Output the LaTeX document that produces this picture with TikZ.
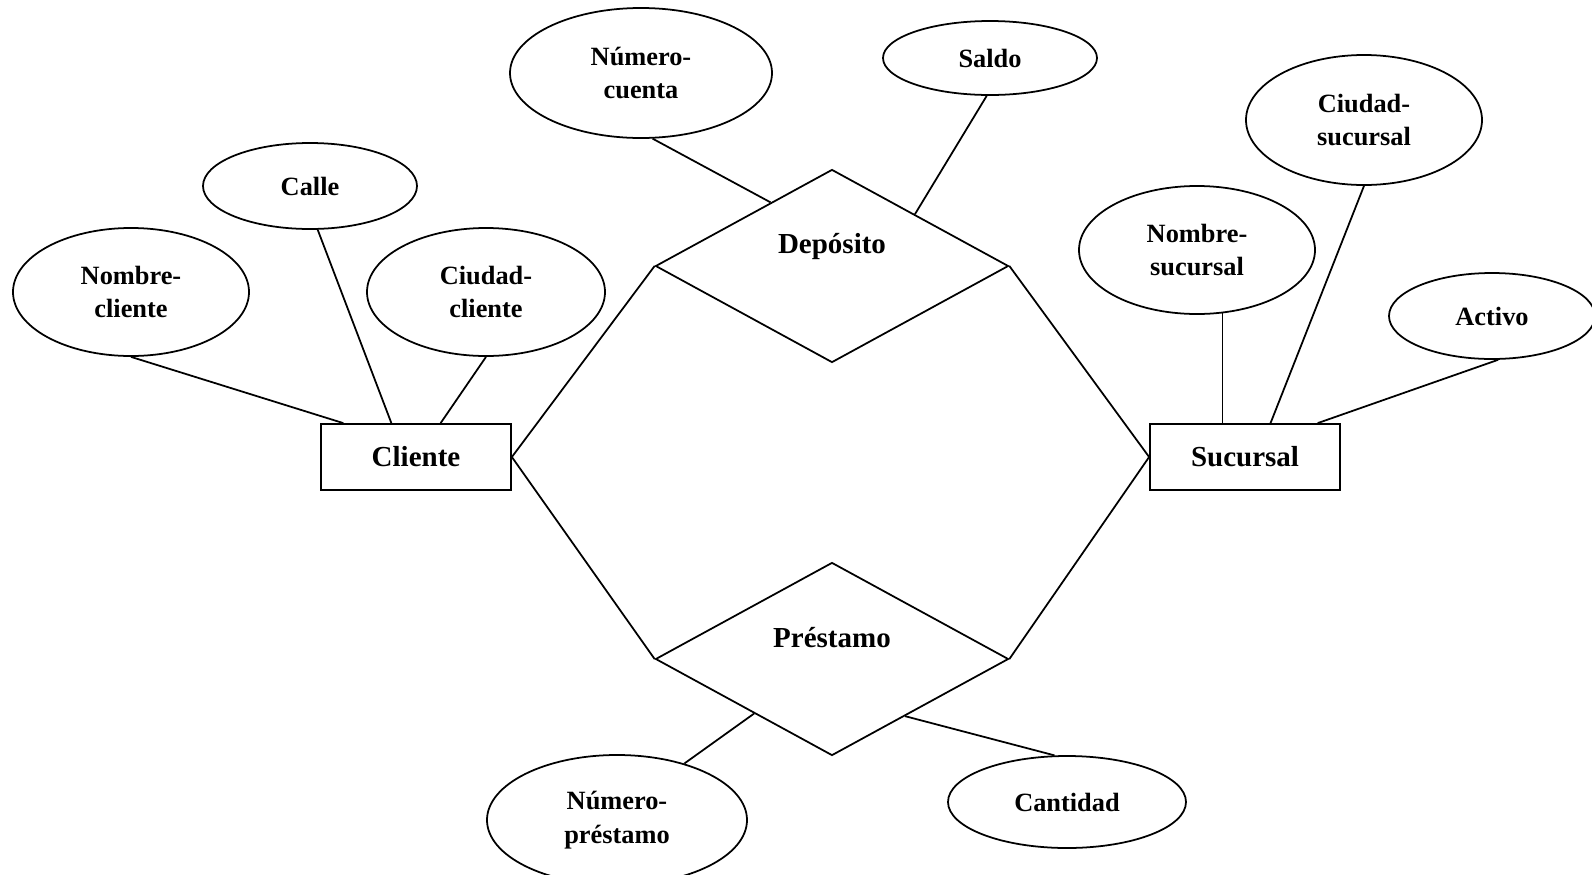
\documentclass[tikz,border=0pt]{standalone}
\usepackage{fontspec}
\setmainfont{Liberation Serif}
\usetikzlibrary{shapes.geometric}

\begin{document}
\begin{tikzpicture}[x=0.2mm, y=-0.2mm, line width=1pt,
    entity/.style={draw, rectangle, minimum width=38mm, minimum height=13.2mm, inner sep=0pt, font=\fontsize{16.5}{20}\selectfont\bfseries},
    relation/.style={draw, diamond, minimum width=70.6mm, minimum height=38.6mm, inner sep=0pt},
    rellabel/.style={font=\fontsize{16.5}{20}\selectfont\bfseries},
    attrib/.style={draw, ellipse, inner sep=0pt, align=center, font=\fontsize{15}{19}\selectfont\bfseries}]

    % Page size
    \useasboundingbox (0,0) rectangle (1592,874);

    % Entities
    \node[entity] (cli) at (416,457) {Cliente};
    \node[entity] (suc) at (1245,457) {Sucursal};

    % Relationships
    \node[relation] (dep) at (832,266) {};
    \node[rellabel] (deptxt) at (832,247) {Depósito};
    \node[relation] (pre) at (832,659) {};
    \node[rellabel] (pretxt) at (832,638) {Préstamo};

    \draw (cli.east) -- (dep.west);
    \draw (cli.east) -- (pre.west);
    \draw (suc.west) -- (dep.east);
    \draw (suc.west) -- (pre.east);

    % Attributes of Cliente
    \node[attrib, minimum width=47.2mm, minimum height=25.6mm] (ncli) at (131,292) {Nombre-\\cliente};
    \node[attrib, minimum width=42.8mm, minimum height=17.2mm] (calle) at (310,186) {Calle};
    \node[attrib, minimum width=47.6mm, minimum height=25.6mm] (ccli) at (486,292) {Ciudad-\\cliente};
    \draw (ncli.south) -- (cli.155);
    \draw (calle.-80) -- (cli.126);
    \draw (ccli.south) -- (cli.54);

    % Attributes of Depósito
    \node[attrib, minimum width=52.4mm, minimum height=26mm] (ncta) at (641,73) {Número-\\cuenta};
    \node[attrib, minimum width=42.8mm, minimum height=14.8mm] (saldo) at (990,58) {Saldo};
    \draw (ncta.-80) -- (dep.134);
    \draw (saldo.-95) -- (dep.32);

    % Attributes of Sucursal
    \node[attrib, minimum width=47.2mm, minimum height=26mm] (csuc) at (1364,120) {Ciudad-\\sucursal};
    \node[attrib, minimum width=47.2mm, minimum height=25.6mm] (nsuc) at (1197,250) {Nombre-\\sucursal};
    \node[attrib, minimum width=41.2mm, minimum height=17.2mm] (activo) at (1492,316) {Activo};
    \draw (nsuc.-68) -- (nsuc.-68 |- suc.north);
    \draw (csuc.south) -- (suc.53);
    \draw (activo.-82) -- (suc.25);

    % Attributes of Préstamo
    \node[attrib, minimum width=52mm, minimum height=26mm] (npre) at (617,820) {Número-\\préstamo};
    \node[attrib, minimum width=47.6mm, minimum height=18.4mm] (cant) at (1067,802) {Cantidad};
    \draw (npre.40) -- (pre.215);
    \draw (cant.105) -- (pre.-38);

\end{tikzpicture}
\end{document}
